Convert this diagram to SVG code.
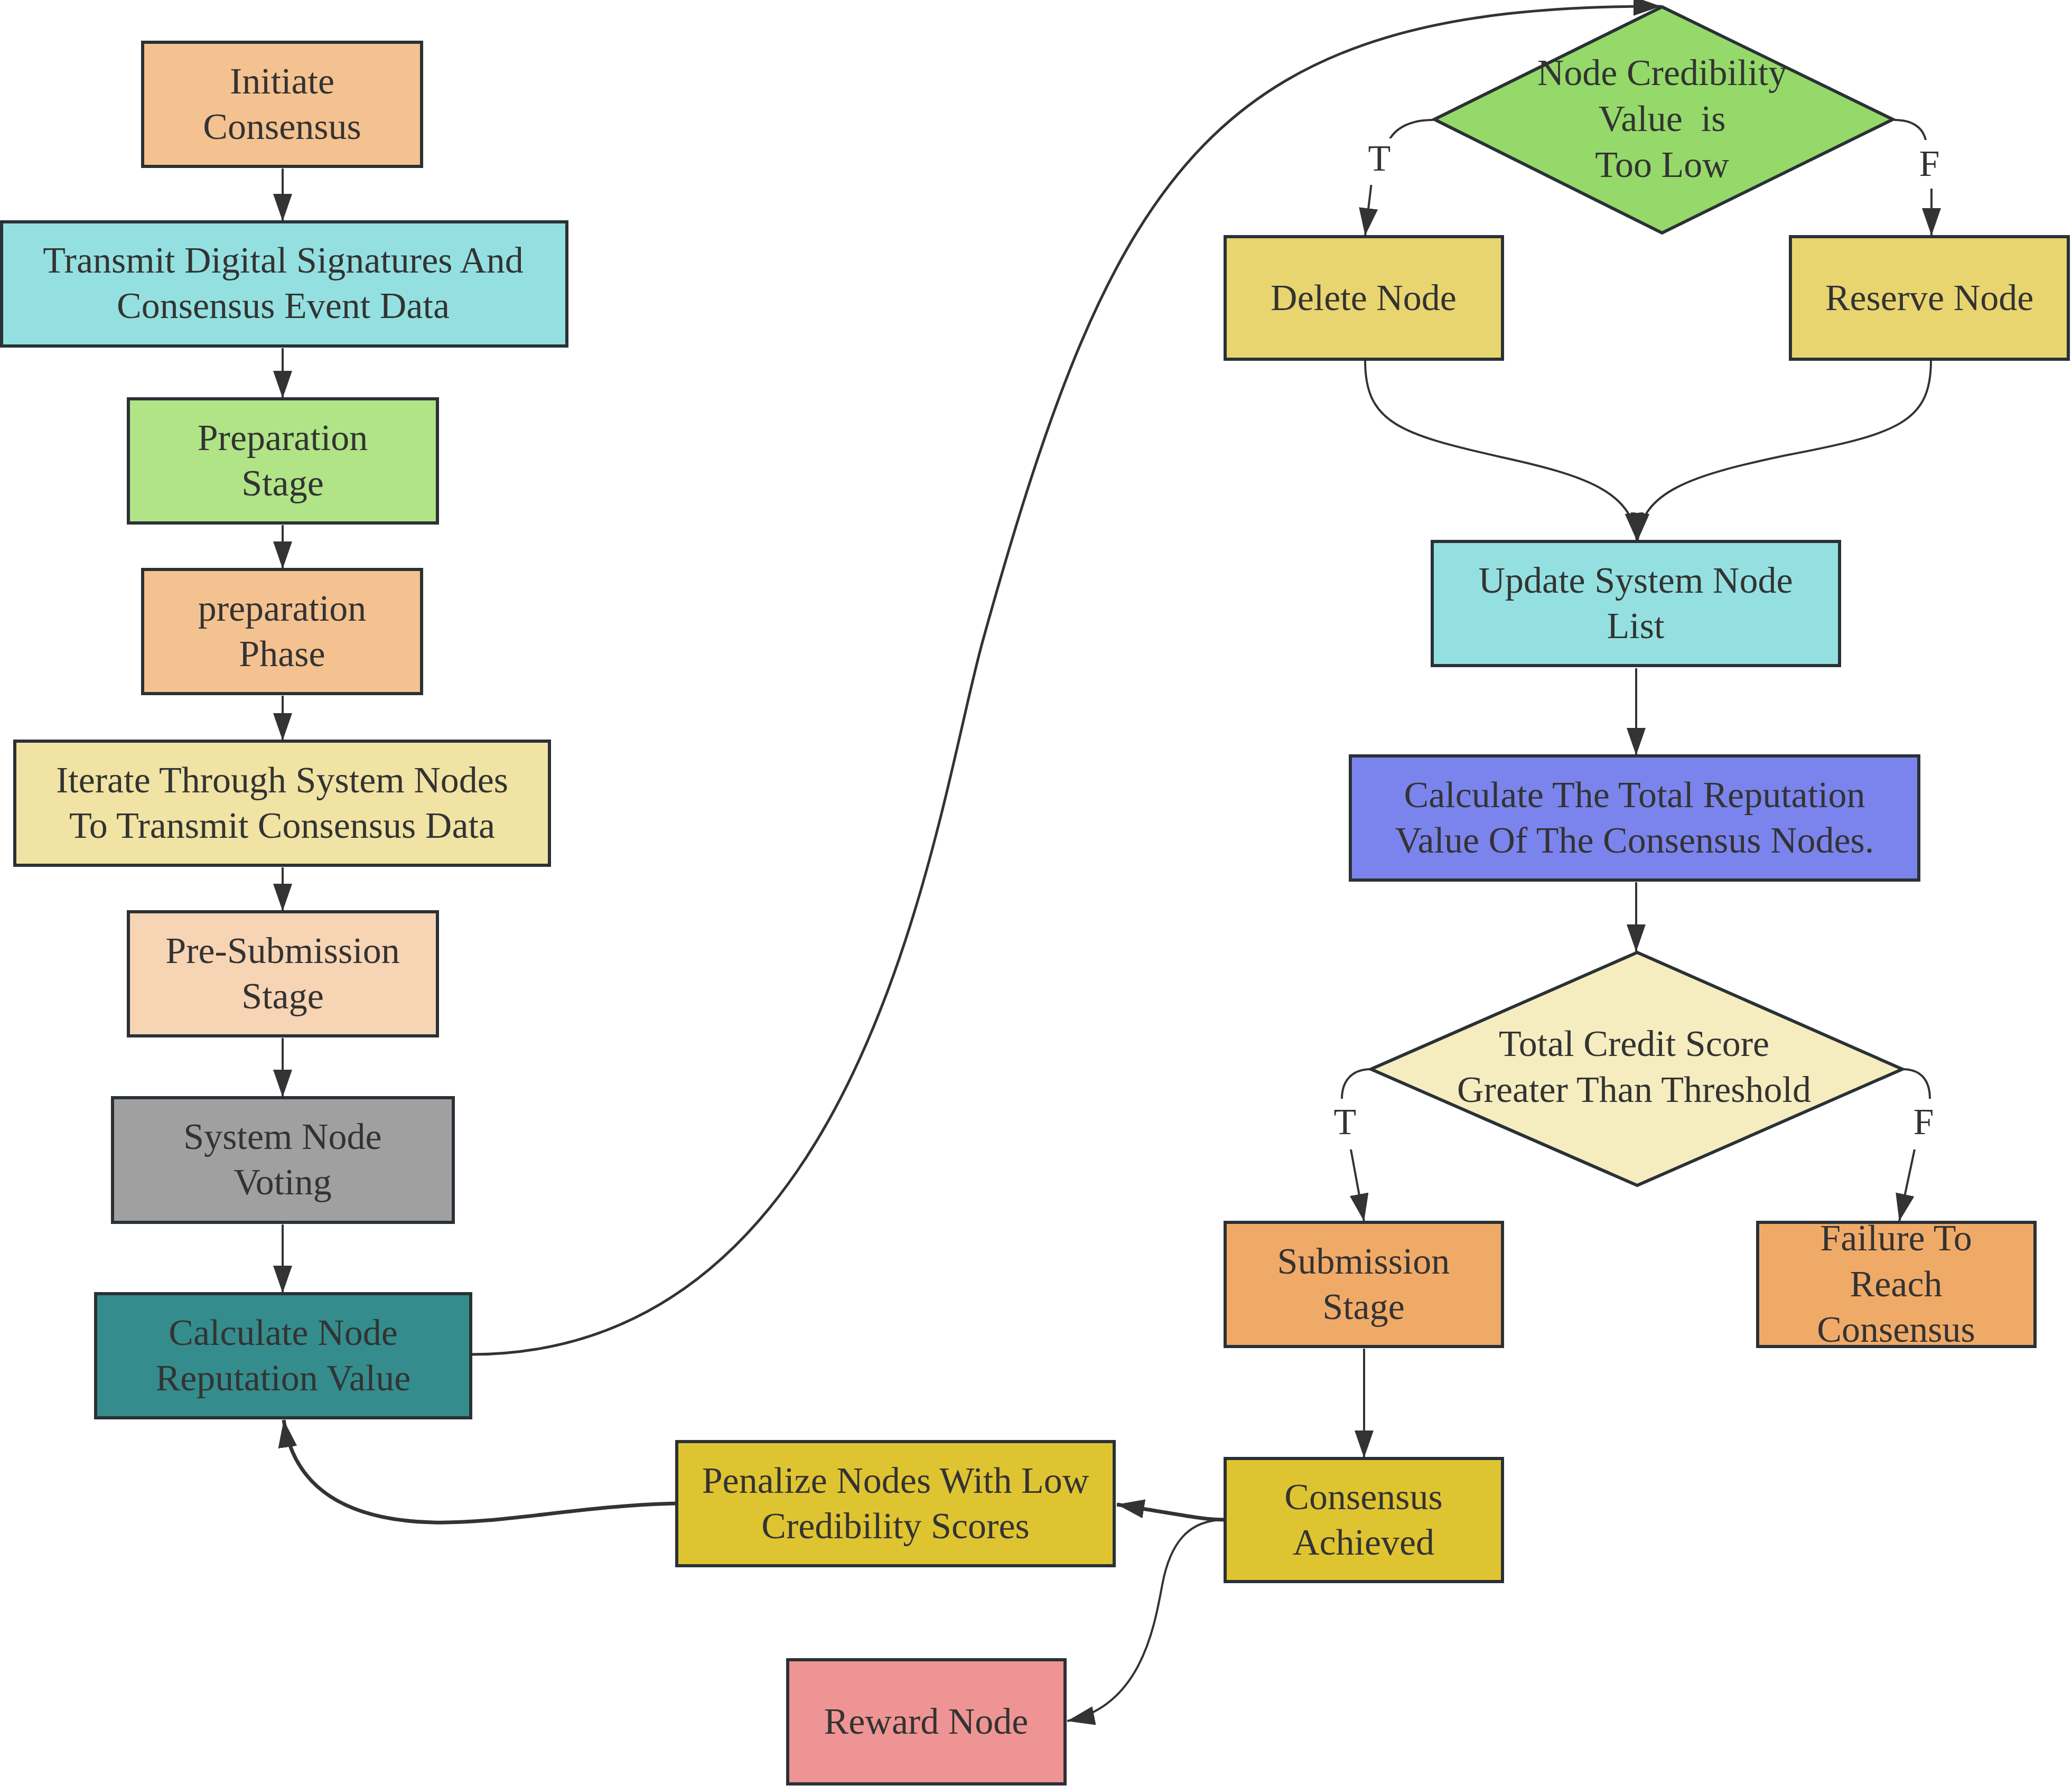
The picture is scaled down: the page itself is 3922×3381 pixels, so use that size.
<svg xmlns="http://www.w3.org/2000/svg" width="3922" height="3381" viewBox="0 0 3922 3381">
<style>
.n{stroke:#2a3136;stroke-width:6}
.t{font-family:"Liberation Serif","Times New Roman",serif;font-size:70px;fill:#333;text-anchor:middle;white-space:pre}
.e{fill:none;stroke:#333;stroke-width:4}
.em{fill:none;stroke:#333;stroke-width:5}
.ek{fill:none;stroke:#333;stroke-width:7}
.lb{fill:#fff}
.peach{fill:#F4C290}.cyan{fill:#94E0E0}.lgreen{fill:#B0E487}.pyellow{fill:#F0E3A3}
.ppeach{fill:#F7D4B4}.gray{fill:#A0A0A0}.teal{fill:#358C8C}.green{fill:#95D96A}
.mustard{fill:#E8D570}.blue{fill:#7B84EC}.cream{fill:#F5EDBF}.orange{fill:#F0AA68}
.gold{fill:#DFC431}.pink{fill:#EF9494}
</style>
<defs>
<marker id="ah" markerUnits="userSpaceOnUse" markerWidth="54" markerHeight="38" refX="52" refY="18" orient="auto" viewBox="0 0 54 38">
<path d="M0,0 L52,18 L0,36 z" fill="#333"/>
</marker>
</defs>
<rect width="3922" height="3381" fill="#fff"/>

<g id="connectors">
<path class="e" d="M535,319 L535,419" marker-end="url(#ah)"/>
<path class="e" d="M535,659 L535,754" marker-end="url(#ah)"/>
<path class="e" d="M535,994 L535,1077" marker-end="url(#ah)"/>
<path class="e" d="M535,1317 L535,1402" marker-end="url(#ah)"/>
<path class="e" d="M535,1642 L535,1725" marker-end="url(#ah)"/>
<path class="e" d="M535,1965 L535,2077" marker-end="url(#ah)"/>
<path class="e" d="M535,2318 L535,2448" marker-end="url(#ah)"/>
<path class="em" d="M891,2564 C1645,2564 1770,1538 1860,1214 C2110,314 2300,8 3144,12" marker-end="url(#ah)"/>
<path class="e" d="M2713,227 C2668,227 2640,243 2628,268 L2596,346 L2584,446" marker-end="url(#ah)"/>
<path class="e" d="M3585,227 C3622,227 3640,243 3645,265 L3656,357 L3656,446" marker-end="url(#ah)"/>
<path class="e" d="M2584,683 C2584,800 2650,822 2840,865 C3000,900 3090,930 3098,1023" marker-end="url(#ah)"/>
<path class="e" d="M3655,683 C3655,800 3590,822 3380,862 C3200,900 3108,930 3100,1023" marker-end="url(#ah)"/>
<path class="e" d="M3097,1265 L3097,1430" marker-end="url(#ah)"/>
<path class="e" d="M3097,1670 L3097,1802" marker-end="url(#ah)"/>
<path class="e" d="M2595,2024 C2560,2024 2540,2045 2540,2080 L2557,2176 L2582,2312" marker-end="url(#ah)"/>
<path class="e" d="M3601,2024 C3636,2024 3653,2045 3653,2080 L3624,2176 L3595,2312" marker-end="url(#ah)"/>
<path class="e" d="M2582,2553 L2582,2760" marker-end="url(#ah)"/>
<path class="ek" d="M2319,2877 C2280,2877 2262,2872 2114,2848" marker-end="url(#ah)"/>
<path class="e" d="M2319,2877 C2250,2877 2215,2920 2200,3000 C2185,3080 2160,3230 2020,3258" marker-end="url(#ah)"/>
<path class="ek" d="M1281,2846 C1100,2850 950,2885 820,2882 C660,2878 556,2820 537,2688" marker-end="url(#ah)"/>
<rect class="lb" x="2583" y="262" width="56" height="88"/>
<text class="t" x="2611" y="323">T</text>
<rect class="lb" x="3624" y="265" width="56" height="92"/>
<text class="t" x="3652" y="333">F</text>
<rect class="lb" x="2518" y="2080" width="56" height="96"/>
<text class="t" x="2546" y="2147">T</text>
<rect class="lb" x="3613" y="2080" width="56" height="96"/>
<text class="t" x="3641" y="2147">F</text>
</g>

<g id="initiate"><rect class="n peach" x="270" y="80" width="528" height="235"/><text class="t"><tspan x="534" y="177">Initiate</tspan><tspan x="534" y="263">Consensus</tspan></text></g>
<g id="transmit"><rect class="n cyan" x="3" y="420" width="1070" height="235"/><text class="t"><tspan x="536" y="516">Transmit Digital Signatures And</tspan><tspan x="536" y="602">Consensus Event Data</tspan></text></g>
<g id="prepStage"><rect class="n lgreen" x="243" y="755" width="585" height="235"/><text class="t"><tspan x="535" y="852">Preparation</tspan><tspan x="535" y="938">Stage</tspan></text></g>
<g id="prepPhase"><rect class="n peach" x="270" y="1078" width="528" height="235"/><text class="t"><tspan x="534" y="1175">preparation</tspan><tspan x="534" y="1261">Phase</tspan></text></g>
<g id="iterate"><rect class="n pyellow" x="28" y="1403" width="1012" height="235"/><text class="t"><tspan x="534" y="1500">Iterate Through System Nodes</tspan><tspan x="534" y="1586">To Transmit Consensus Data</tspan></text></g>
<g id="preSub"><rect class="n ppeach" x="243" y="1726" width="585" height="235"/><text class="t"><tspan x="535" y="1823">Pre-Submission</tspan><tspan x="535" y="1909">Stage</tspan></text></g>
<g id="voting"><rect class="n gray" x="213" y="2078" width="645" height="236"/><text class="t"><tspan x="535" y="2175">System Node</tspan><tspan x="535" y="2261">Voting</tspan></text></g>
<g id="calcNode"><rect class="n teal" x="181" y="2449" width="710" height="235"/><text class="t"><tspan x="536" y="2546">Calculate Node</tspan><tspan x="536" y="2632">Reputation Value</tspan></text></g>

<g id="credDecision"><polygon class="n green" points="3146,13 3583,226 3146,441 2715,226"/><text class="t"><tspan x="3146" y="161">Node Credibility</tspan><tspan x="3146" y="248">Value  is</tspan><tspan x="3146" y="335">Too Low</tspan></text></g>
<g id="deleteNode"><rect class="n mustard" x="2319" y="448" width="525" height="232"/><text class="t" x="2581" y="587">Delete Node</text></g>
<g id="reserveNode"><rect class="n mustard" x="3389" y="448" width="526" height="232"/><text class="t" x="3652" y="587">Reserve Node</text></g>
<g id="updateList"><rect class="n cyan" x="2711" y="1025" width="771" height="235"/><text class="t"><tspan x="3096" y="1122">Update System Node</tspan><tspan x="3096" y="1208">List</tspan></text></g>
<g id="calcTotal"><rect class="n blue" x="2556" y="1431" width="1076" height="235"/><text class="t"><tspan x="3094" y="1528">Calculate The Total Reputation</tspan><tspan x="3094" y="1614">Value Of The Consensus Nodes.</tspan></text></g>
<g id="scoreDecision"><polygon class="n cream" points="3099,1803 3601,2024 3099,2244 2595,2024"/><text class="t"><tspan x="3093" y="1999">Total Credit Score</tspan><tspan x="3093" y="2086">Greater Than Threshold</tspan></text></g>
<g id="submission"><rect class="n orange" x="2319" y="2314" width="525" height="235"/><text class="t"><tspan x="2581" y="2411">Submission</tspan><tspan x="2581" y="2497">Stage</tspan></text></g>
<g id="failure"><rect class="n orange" x="3327" y="2314" width="525" height="235"/><text class="t"><tspan x="3589" y="2367">Failure To</tspan><tspan x="3589" y="2454">Reach</tspan><tspan x="3589" y="2540">Consensus</tspan></text></g>
<g id="achieved"><rect class="n gold" x="2319" y="2761" width="525" height="233"/><text class="t"><tspan x="2581" y="2857">Consensus</tspan><tspan x="2581" y="2943">Achieved</tspan></text></g>
<g id="penalize"><rect class="n gold" x="1281" y="2729" width="828" height="235"/><text class="t"><tspan x="1695" y="2826">Penalize Nodes With Low</tspan><tspan x="1695" y="2912">Credibility Scores</tspan></text></g>
<g id="reward"><rect class="n pink" x="1491" y="3142" width="525" height="235"/><text class="t" x="1753" y="3282">Reward Node</text></g>
</svg>
